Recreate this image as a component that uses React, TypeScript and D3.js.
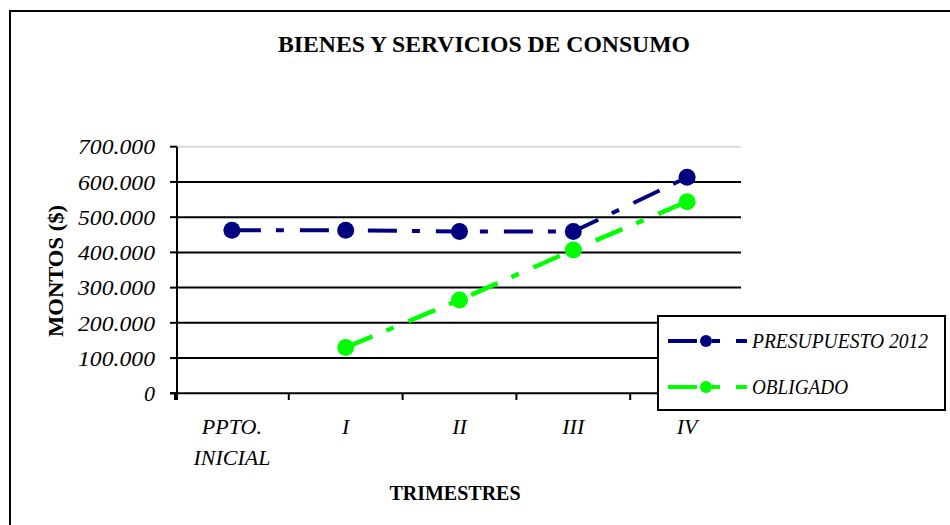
import React from "react";
import * as d3 from "d3";

const categories = ["PPTO.|INICIAL", "I", "II", "III", "IV"];
const presupuesto: (number | null)[] = [463000, 463000, 459000, 459000, 613000];
const obligado: (number | null)[] = [null, 130000, 265000, 407000, 544000];
const yTicks = [0, 100000, 200000, 300000, 400000, 500000, 600000, 700000];
const yTickLabels = ["0", "100.000", "200.000", "300.000", "400.000", "500.000", "600.000", "700.000"];
const seriesNames = ["PRESUPUESTO 2012", "OBLIGADO"];
const seriesColors = ["#000080", "#00ff00"];

const FONT = "'Liberation Serif', 'Times New Roman', serif";
const DASH = "29 15 8 16";

export default function App() {
  const x = d3.scaleBand<string>().domain(categories).range([175, 744]).padding(0);
  const y = d3.scaleLinear().domain([0, 700000]).range([393.3, 146.7]);
  const cx = (c: string) => (x(c) as number) + x.bandwidth() / 2;

  const line = d3
    .line<[string, number | null]>()
    .defined((d) => d[1] !== null)
    .x((d) => cx(d[0]))
    .y((d) => y(d[1] as number));

  const series = [presupuesto, obligado];
  const widths = [4, 4.5];

  const plotLeft = 177;
  const plotRight = 741;
  const legend = { x: 658, y: 316, w: 287, h: 94 };

  return (
    <div style={{ position: "absolute", left: 0, top: 0 }}>
      <svg width={950} height={525} style={{ display: "block", background: "#fff" }}>
        <rect x={0} y={0} width={950} height={525} fill="#fff" />
        {/* outer frame */}
        <rect x={10} y={11} width={1000} height={600} fill="none" stroke="#000" strokeWidth={2} />

        {/* title */}
        <text
          x={484}
          y={52}
          textAnchor="middle"
          fontFamily={FONT}
          fontWeight="bold"
          fontSize={24}
          textLength={412}
          lengthAdjust="spacingAndGlyphs"
        >
          BIENES Y SERVICIOS DE CONSUMO
        </text>

        {/* plot area top border */}
        <line x1={plotLeft} x2={plotRight} y1={y(700000)} y2={y(700000)} stroke="#d9d9d9" strokeWidth={2} />

        {/* gridlines */}
        {yTicks
          .filter((t) => t > 0 && t < 700000)
          .map((t) => (
            <line key={t} x1={plotLeft} x2={plotRight} y1={y(t)} y2={y(t)} stroke="#000" strokeWidth={2} />
          ))}

        {/* y axis */}
        <line x1={plotLeft} x2={plotLeft} y1={y(700000)} y2={400} stroke="#000" strokeWidth={2} />
        {yTicks.map((t, i) => (
          <g key={t}>
            <line x1={170} x2={plotLeft} y1={y(t)} y2={y(t)} stroke="#000" strokeWidth={2} />
            <text
              x={155}
              y={y(t)}
              dy="0.35em"
              textAnchor="end"
              fontFamily={FONT}
              fontStyle="italic"
              fontSize={22}
              textLength={t === 0 ? undefined : 77}
              lengthAdjust="spacingAndGlyphs"
            >
              {yTickLabels[i]}
            </text>
          </g>
        ))}

        {/* x axis */}
        <line x1={170} x2={plotRight} y1={y(0)} y2={y(0)} stroke="#000" strokeWidth={2} />
        {categories.map((c) => (
          <line key={c} x1={x(c) as number} x2={x(c) as number} y1={y(0)} y2={400} stroke="#000" strokeWidth={2} />
        ))}
        {categories.map((c) => {
          const parts = c.split("|");
          return (
            <text key={c} x={cx(c)} y={434} textAnchor="middle" fontFamily={FONT} fontStyle="italic" fontSize={22}>
              {parts.map((p, i) => (
                <tspan key={i} x={cx(c)} dy={i === 0 ? 0 : 31}>
                  {p}
                </tspan>
              ))}
            </text>
          );
        })}

        {/* axis titles */}
        <text
          x={455}
          y={500}
          textAnchor="middle"
          fontFamily={FONT}
          fontWeight="bold"
          fontSize={22}
          textLength={131}
          lengthAdjust="spacingAndGlyphs"
        >
          TRIMESTRES
        </text>
        <text
          transform={`translate(63,271) rotate(-90)`}
          textAnchor="middle"
          fontFamily={FONT}
          fontWeight="bold"
          fontSize={22}
          textLength={132}
          lengthAdjust="spacingAndGlyphs"
        >
          MONTOS ($)
        </text>

        {/* series */}
        {series.map((s, si) => {
          const pts = categories.map((c, i) => [c, s[i]] as [string, number | null]);
          const defined = pts.filter((p) => p[1] !== null);
          return (
            <g key={si}>
              <path
                d={line(defined) || ""}
                fill="none"
                stroke={seriesColors[si]}
                strokeWidth={widths[si]}
                strokeDasharray={DASH}
              />
              {defined.map((p) => (
                <circle key={p[0]} cx={cx(p[0])} cy={y(p[1] as number)} r={8.5} fill={seriesColors[si]} />
              ))}
            </g>
          );
        })}

        {/* legend */}
        <rect x={legend.x} y={legend.y} width={legend.w} height={legend.h} fill="#fff" stroke="#000" strokeWidth={2} />
        {seriesNames.map((n, i) => {
          const ly = i === 0 ? 341 : 387;
          return (
            <g key={n}>
              <line x1={668} x2={747} y1={ly} y2={ly} stroke={seriesColors[i]} strokeWidth={4} strokeDasharray={DASH} />
              <circle cx={706} cy={ly} r={6} fill={seriesColors[i]} />
              <text
                x={752}
                y={ly}
                dy="0.35em"
                fontFamily={FONT}
                fontStyle="italic"
                fontSize={20}
                textLength={i === 0 ? 176 : 96}
                lengthAdjust="spacingAndGlyphs"
              >
                {n}
              </text>
            </g>
          );
        })}
      </svg>
    </div>
  );
}
